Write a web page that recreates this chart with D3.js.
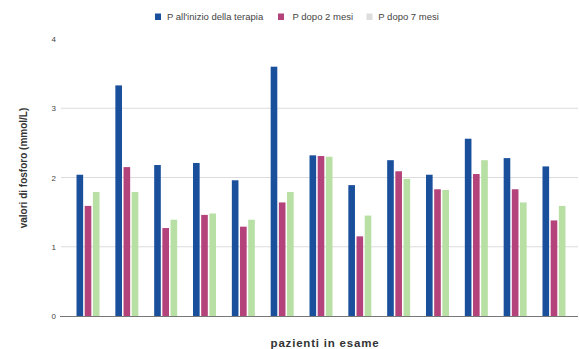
<!DOCTYPE html>
<html><head><meta charset="utf-8">
<script src="https://cdn.jsdelivr.net/npm/d3@7"></script>
<style>body{margin:0;background:#fff}svg{display:block}</style>
</head><body>
<svg id="c" width="579" height="349"></svg>
<script>
const patients = ["1","2","3","4","5","6","7","8","9","10","11","12","13"];
const seriesNames = ["P all'inizio della terapia","P dopo 2 mesi","P dopo 7 mesi"];
const pStart = [2.04,3.33,2.18,2.21,1.96,3.60,2.32,1.89,2.25,2.04,2.56,2.28,2.16];
const p2mesi = [1.59,2.15,1.27,1.46,1.29,1.64,2.31,1.15,2.09,1.83,2.05,1.83,1.38];
const p7mesi = [1.79,1.79,1.39,1.48,1.39,1.79,2.30,1.45,1.98,1.82,2.25,1.64,1.59];
const yTicks = [0,1,2,3,4];
const colors = ["#1a4f9c","#b3437a","#b8dfa4"];
const legendColors = ["#1a4f9c","#b3437a","#dddddd"];

const series = [pStart, p2mesi, p7mesi];
const svg = d3.select("#c");
const font = "'Liberation Sans', Arial, sans-serif";

const x = d3.scaleBand().domain(patients).range([68.6, 573.4]).paddingInner(0.408).paddingOuter(0.204);
const xs = d3.scaleBand().domain([0,1,2]).range([0, x.bandwidth()]).paddingInner(0.19);
const y = d3.scaleLinear().domain([0,4]).range([316, 39]);

// gridlines
svg.append("g").selectAll("line").data(yTicks.filter(t => t > 0 && t < 4)).join("line")
  .attr("x1", 61).attr("x2", 578)
  .attr("y1", d => y(d)).attr("y2", d => y(d))
  .attr("stroke", "#dcdcdc").attr("stroke-width", 1);

// y axis labels
const yAxis = d3.axisLeft(y).tickValues(yTicks).tickSize(0).tickPadding(0).tickFormat(d3.format("d"));
const ya = svg.append("g").attr("transform", "translate(56,0)").call(yAxis);
ya.select(".domain").remove();
ya.selectAll("text").attr("font-family", font).attr("font-size", 8).attr("fill", "#444");

// bars
const g = svg.append("g");
patients.forEach((p, i) => {
  series.forEach((s, k) => {
    g.append("rect")
      .attr("x", x(p) + xs(k))
      .attr("width", xs.bandwidth())
      .attr("y", y(s[i]))
      .attr("height", y(0) - y(s[i]))
      .attr("fill", colors[k]);
  });
});

// x axis line
svg.append("line").attr("x1", 60).attr("x2", 578).attr("y1", 316.5).attr("y2", 316.5)
  .attr("stroke", "#777").attr("stroke-width", 1);

// axis titles
svg.append("text").attr("transform", "translate(27,168) rotate(-90)")
  .attr("text-anchor", "middle").attr("font-family", font).attr("font-weight", "bold")
  .attr("font-size", 10).attr("fill", "#333").text("valori di fosforo (mmol/L)");
svg.append("text").attr("x", 325).attr("y", 347)
  .attr("text-anchor", "middle").attr("font-family", font).attr("font-weight", "bold")
  .attr("font-size", 11.5).attr("letter-spacing", 0.8).attr("fill", "#333").text("pazienti in esame");

// legend
const legendX = [155, 278, 366.5];
const legendTextX = [167, 292.5, 378.3];
const lg = svg.append("g");
seriesNames.forEach((n, k) => {
  lg.append("rect").attr("x", legendX[k]).attr("y", 13.5).attr("width", 6).attr("height", 6.5).attr("fill", legendColors[k]);
  lg.append("text").attr("x", legendTextX[k]).attr("y", 20).attr("font-family", font)
    .attr("font-size", 9.5).attr("fill", "#444").text(n);
});
</script>
</body></html>
